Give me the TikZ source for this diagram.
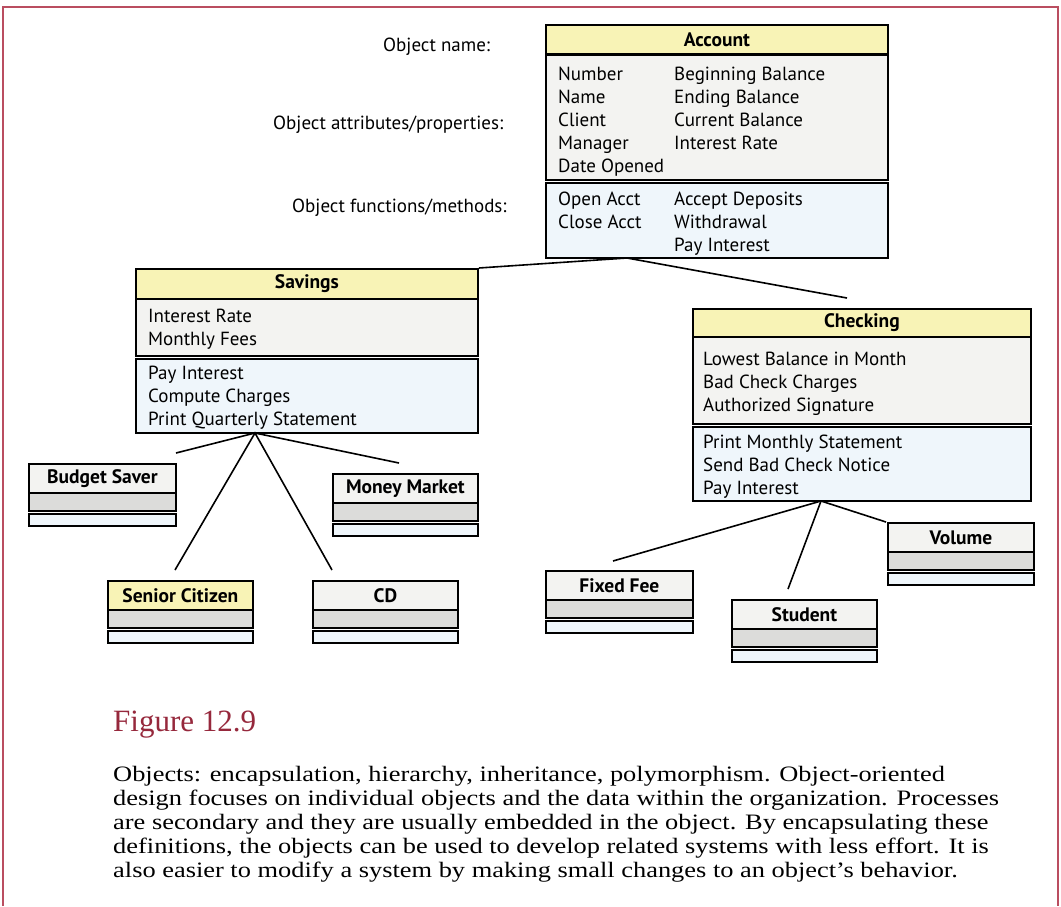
\documentclass[tikz,border=0pt]{standalone}
\usepackage{fontspec}
\setmainfont{Liberation Serif}
\newfontfamily\diagfont{PT Sans}
\newfontfamily\capfont[FakeStretch=1.2]{Liberation Serif}
\definecolor{frameRed}{RGB}{186,78,96}
\definecolor{figRed}{RGB}{150,40,60}
\definecolor{ttlYellow}{RGB}{248,243,182}
\definecolor{attrGray}{RGB}{243,243,241}
\definecolor{methBlue}{RGB}{239,246,251}
\definecolor{slotGray}{RGB}{220,220,218}
% lines of a compartment, baseline of the node = baseline of the first line
\newcommand{\linestack}[1]{\begin{tabular}[t]{@{}l@{}}#1\end{tabular}}
\tikzset{
  sect/.style={draw=black, line width=1.8pt, inner sep=0pt, anchor=north west},
  ttl/.style={sect, fill=ttlYellow, font=\diagfont\bfseries\fontsize{19.5}{22}\selectfont},
  subttl/.style={sect, fill=attrGray, font=\diagfont\bfseries\fontsize{19.5}{22}\selectfont},
  attrs/.style={sect, fill=attrGray},
  meths/.style={sect, fill=methBlue},
  slot/.style={sect, fill=slotGray},
  col/.style={anchor=base west, inner sep=0pt,
    font=\diagfont\fontsize{19}{23}\selectfont},
  lbl/.style={anchor=west, inner sep=0pt, font=\diagfont\fontsize{19}{22}\selectfont},
  link/.style={draw=black, line width=1.6pt},
}
% small class box: name, left x, right x, top y, title text, title style
\newcommand{\smallclass}[6]{%
  \node[#6, minimum width=#3-#2, minimum height=29] (#1-t) at (#2,#4) {#5};
  \node[slot, minimum width=#3-#2, minimum height=18] (#1-a) at (#2,#4+29) {};
  \node[meths, minimum width=#3-#2, minimum height=12] (#1-m) at (#2,#4+50) {};
}
\begin{document}
\begin{tikzpicture}[x=1pt, y=-1pt]
\useasboundingbox (0,0) rectangle (1061,906);
\fill[white] (0,0) rectangle (1061,906);
\draw[frameRed, line width=1.5pt] (3,906) -- (3,7) -- (1058,7) -- (1058,906);

% ---- Account ----
\node[ttl, minimum width=342, minimum height=29] (acct-t) at (545,24) {Account};
\node[attrs, minimum width=342, minimum height=125] (acct-a) at (545,54) {};
\node[meths, minimum width=342, minimum height=75] (acct-m) at (545,182) {};
\node[col] (acct-a1) at (558,80) {\linestack{Number\\Name\\Client\\Manager\\Date Opened}};
\node[col] (acct-a2) at (674,80) {\linestack{Beginning Balance\\Ending Balance\\Current Balance\\Interest Rate}};
\node[col] (acct-m1) at (558,205) {\linestack{Open Acct\\Close Acct}};
\node[col] (acct-m2) at (674,205) {\linestack{Accept Deposits\\Withdrawal\\Pay Interest}};

\node[lbl] (lbl-name) at (383,47) {Object name:};
\node[lbl] (lbl-attr) at (273,125) {Object attributes/properties:};
\node[lbl] (lbl-meth) at (292,208) {Object functions/methods:};

% ---- Savings ----
\node[ttl, minimum width=342, minimum height=30] (sav-t) at (135,268) {Savings};
\node[attrs, minimum width=342, minimum height=57] (sav-a) at (135,298) {};
\node[meths, minimum width=342, minimum height=74] (sav-m) at (135,358) {};
\node[col] (sav-a1) at (148,322) {\linestack{Interest Rate\\Monthly Fees}};
\node[col] (sav-m1) at (148,379) {\linestack{Pay Interest\\Compute Charges\\Print Quarterly Statement}};

% ---- Checking ----
\node[ttl, minimum width=338, minimum height=28] (chk-t) at (692,308) {Checking};
\node[attrs, minimum width=338, minimum height=87] (chk-a) at (692,336) {};
\node[meths, minimum width=338, minimum height=74] (chk-m) at (692,426) {};
\node[col] (chk-a1) at (703,365) {\linestack{Lowest Balance in Month\\Bad Check Charges\\Authorized Signature}};
\node[col] (chk-m1) at (703,448) {\linestack{Print Monthly Statement\\Send Bad Check Notice\\Pay Interest}};

% ---- subclasses ----
\smallclass{bs}{28}{175}{463}{Budget Saver}{subttl}
\smallclass{mm}{332}{477}{473}{Money Market}{subttl}
\smallclass{sc}{107}{252}{580}{Senior Citizen}{ttl}
\smallclass{cd}{312}{457}{580}{CD}{subttl}
\smallclass{ff}{545}{692}{570}{Fixed Fee}{subttl}
\smallclass{st}{731}{876}{599}{Student}{subttl}
\smallclass{vo}{887}{1033}{522}{Volume}{subttl}

% ---- hierarchy links ----
\coordinate (acct-hub) at (627,258);
\coordinate (chk-end) at (847,298);
\coordinate (sav-hub) at (255,433);
\coordinate (bs-end) at (176,453);
\coordinate (mm-end) at (399,463);
\coordinate (sc-end) at (175,570);
\coordinate (cd-end) at (332,570);
\coordinate (chk-hub) at (821,501);
\coordinate (ff-end) at (613,561);
\coordinate (st-end) at (788,589);
\coordinate (vo-end) at (886,522);

\draw[link] (sav-t.north east) -- (acct-hub) -- (chk-end);
\draw[link] (bs-end) -- (sav-hub) -- (mm-end);
\draw[link] (sc-end) -- (sav-hub) -- (cd-end);
\draw[link] (ff-end) -- (chk-hub) -- (vo-end);
\draw[link] (st-end) -- (chk-hub);

% ---- caption ----
\node[anchor=base west, inner sep=0pt, text=figRed, font=\fontsize{31}{34}\selectfont] (fig-no) at (113,731) {Figure 12.9};
\node[anchor=base west, inner sep=0pt, font=\capfont\fontsize{22}{24.2}\selectfont] (fig-cap) at (113,781)
{\linestack{Objects: encapsulation, hierarchy, inheritance, polymorphism. Object-oriented\\
design focuses on individual objects and the data within the organization. Processes\\
are secondary and they are usually embedded in the object. By encapsulating these\\
definitions, the objects can be used to develop related systems with less effort. It is\\
also easier to modify a system by making small changes to an object’s behavior.}};
\end{tikzpicture}
\end{document}
